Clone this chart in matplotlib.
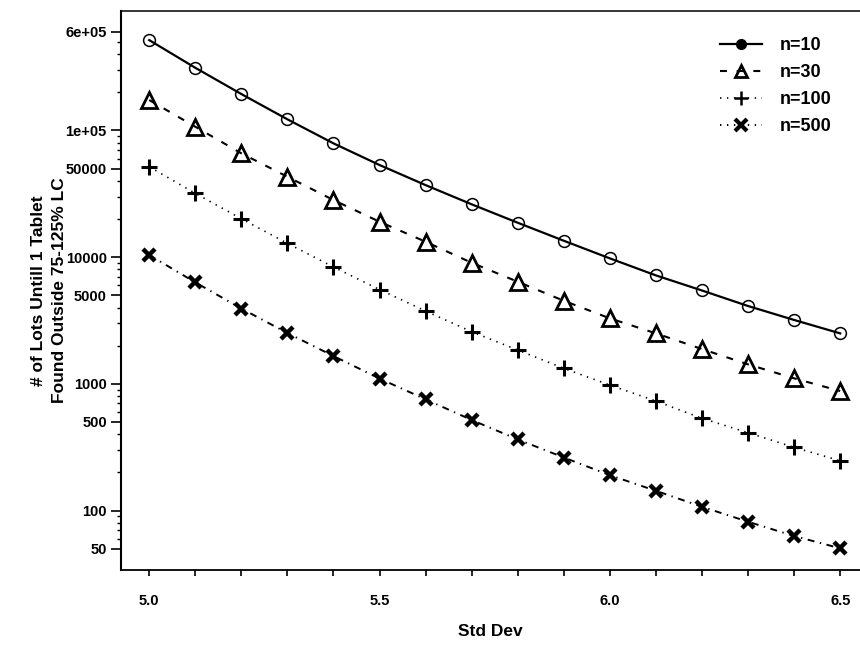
import numpy as np
import matplotlib.pyplot as plt
from matplotlib.lines import Line2D
from matplotlib.ticker import FixedLocator, NullFormatter

plt.rcParams['font.family'] = ['Liberation Sans', 'DejaVu Sans']
plt.rcParams['font.weight'] = 'bold'
plt.rcParams['lines.scale_dashes'] = False

# values (log scale)
std_dev = [5.0, 5.1, 5.2, 5.3, 5.4, 5.5, 5.6, 5.7, 5.8, 5.9, 6.0, 6.1, 6.2, 6.3, 6.4, 6.5]
lots_n10 = [516000, 312000, 193600, 122300, 79000, 53300, 37000, 26100,
            18670, 13460, 9770, 7170, 5450, 4110, 3190, 2500]
lots_n30 = [173600, 106900, 65900, 43080, 28200, 19010, 13220, 9020,
            6390, 4520, 3285, 2500, 1880, 1424, 1104, 877]
lots_n100 = [51650, 31860, 20080, 12840, 8350, 5544, 3752, 2576,
             1847, 1324, 977, 731, 534, 411, 315, 247]
lots_n500 = [10380, 6320, 3926, 2515, 1656, 1100, 754, 518,
             364, 262, 190, 143, 107, 81.5, 62.9, 50.3]

y_ticks = [50, 100, 500, 1000, 5000, 10000, 50000, 100000, 600000]
y_tick_labels = ['50', '100', '500', '1000', '5000', '10000', '50000', '1e+05', '6e+05']
x_tick_labels = ['5.0', '', '', '', '', '5.5', '', '', '', '', '6.0', '', '', '', '', '6.5']
legend_labels = ['n=10', 'n=30', 'n=100', 'n=500']

fig = plt.figure(figsize=(8.6, 6.46), dpi=100)
ax = fig.add_axes([0.1403, 0.1176, 0.8597, 0.8658])

ax.plot(std_dev, lots_n10, color='black', lw=1.6, ls='-',
        marker='o', ms=8.5, mfc='none', mew=1.1)
ax.plot(std_dev, lots_n30, color='black', lw=1.5, ls=(0, (5, 7)),
        marker='^', ms=11, mfc='none', mew=2.0)
ax.plot(std_dev, lots_n100, color='black', lw=1.2, ls=(0, (1, 4)),
        marker='+', ms=11, mew=2.2)
ax.plot(std_dev, lots_n500, color='black', lw=1.4, ls=(0, (5, 4, 1, 4)),
        marker='x', ms=9, mew=3.2)

ax.set_yscale('log')
ax.set_xlim(4.938, 6.543)
ax.set_ylim(33.9, 8.8e5)

# y ticks
minor = []
for dec in [10, 100, 1000, 10000, 100000]:
    for k in range(2, 10):
        v = k * dec
        if 60 <= v <= 500000 and v not in y_ticks:
            minor.append(v)
ax.yaxis.set_major_locator(FixedLocator(y_ticks))
ax.set_yticklabels(y_tick_labels)
ax.yaxis.set_minor_locator(FixedLocator(minor))
ax.yaxis.set_minor_formatter(NullFormatter())

ax.set_xticks(std_dev)
ax.set_xticklabels(x_tick_labels)

ax.tick_params(axis='y', which='major', direction='out', length=7, width=1.2,
               pad=3, labelsize=10.5)
ax.tick_params(axis='y', which='minor', direction='out', length=3, width=1.0)
ax.tick_params(axis='x', which='major', direction='out', length=4, width=1.2,
               pad=13, labelsize=10.5)

ax.spines['right'].set_visible(False)
ax.spines['left'].set_linewidth(1.5)
ax.spines['bottom'].set_linewidth(1.3)
ax.spines['top'].set_linewidth(1.1)

ax.set_xlabel('Std Dev', fontsize=12.5, fontweight='bold', labelpad=12)
ax.set_ylabel('# of Lots Untill 1 Tablet\nFound Outside 75-125% LC',
              fontsize=12.5, fontweight='bold', labelpad=-1, linespacing=1.5)

handles = [
    Line2D([], [], color='black', lw=1.6, ls='-', marker='o', ms=7, mfc='black'),
    Line2D([], [], color='black', lw=1.5, ls=(0, (5, 7)), marker='^', ms=9, mfc='none', mew=2.0),
    Line2D([], [], color='black', lw=1.2, ls=(0, (1, 4)), marker='+', ms=10, mew=1.8),
    Line2D([], [], color='black', lw=1.4, ls=(0, (1, 4)), marker='x', ms=8, mew=3),
]
leg = fig.legend(handles, legend_labels, loc='upper left',
                 bbox_to_anchor=(720 / 860, 1 - 37 / 646),
                 frameon=False, borderpad=0, borderaxespad=0,
                 handlelength=2.3, handletextpad=1.0, labelspacing=0.56,
                 prop={'size': 13, 'weight': 'bold'})

fig.savefig('out.png', dpi=100, facecolor='white')
